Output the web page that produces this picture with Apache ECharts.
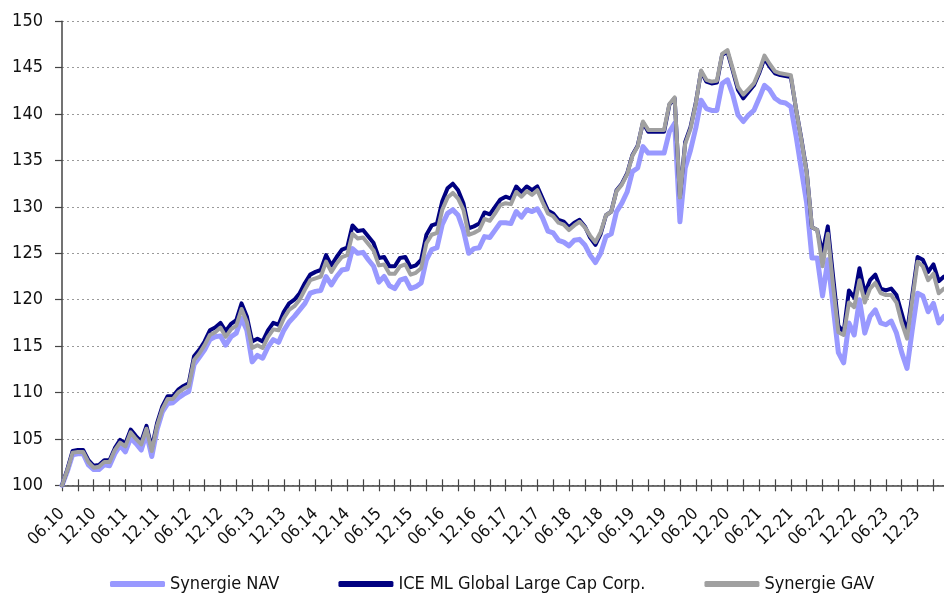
<!DOCTYPE html>
<html>
<head>
<meta charset="utf-8">
<script src="https://cdn.jsdelivr.net/npm/echarts@6/dist/echarts.min.js"></script>
<style>
html,body{margin:0;padding:0;background:#fff;}
#chart{width:944px;height:595px;}
</style>
</head>
<body>
<div id="chart"></div>
<script>
// Monthly categories from 06.10 onward (MM.YY)
const categories = [];
(function(){ let y = 10, m = 6; for (let k = 0; k < 168; k++) { categories.push((m < 10 ? '0' + m : '' + m) + '.' + (y < 10 ? '0' + y : '' + y)); m++; if (m > 12) { m = 1; y++; } } })();

const yTicks = { min: 100, max: 150, step: 5 };

const seriesNames = ['Synergie NAV', 'ICE ML Global Large Cap Corp.', 'Synergie GAV'];

const navValues = [
100.0,101.5,103.3,103.4,103.4,102.2,101.7,101.7,102.2,102.1,
103.4,104.3,103.6,105.1,104.5,103.8,105.6,103.1,106.0,107.9,
108.8,108.9,109.4,109.8,110.1,113.0,113.8,114.6,115.7,116.0,
116.1,115.1,116.0,116.4,118.0,116.7,113.3,114.0,113.7,114.9,
115.7,115.4,116.7,117.6,118.2,118.9,119.6,120.7,120.9,121.0,
122.5,121.6,122.5,123.2,123.3,125.5,125.0,125.1,124.3,123.6,
121.9,122.5,121.5,121.2,122.1,122.3,121.2,121.4,121.8,124.3,
125.4,125.6,128.1,129.3,129.7,129.1,127.5,125.0,125.5,125.6,
126.8,126.7,127.5,128.3,128.3,128.2,129.5,128.9,129.7,129.5,
129.8,128.8,127.4,127.2,126.4,126.2,125.8,126.4,126.5,125.9,
124.8,124.0,125.0,126.8,127.1,129.5,130.4,131.6,133.8,134.2,
136.5,135.8,135.8,135.8,135.8,138.1,139.0,128.4,134.2,136.1,
138.5,141.5,140.6,140.4,140.4,143.3,143.7,142.1,139.9,139.2,
139.9,140.4,141.7,143.1,142.6,141.7,141.3,141.2,140.8,137.6,
134.0,130.4,124.5,124.5,120.4,124.3,119.3,114.3,113.2,117.5,
116.2,120.0,116.4,118.2,118.9,117.5,117.3,117.7,116.4,114.3,
112.6,116.8,120.7,120.4,118.7,119.6,117.5,118.2
];

const iceValues = [
100.0,101.7,103.7,103.8,103.8,102.7,102.1,102.2,102.7,102.7,
104.0,104.9,104.5,106.0,105.3,104.7,106.4,104.0,106.7,108.5,
109.6,109.6,110.3,110.7,111.0,113.9,114.6,115.5,116.7,117.0,
117.5,116.6,117.4,117.8,119.6,118.2,115.5,115.8,115.5,116.7,
117.5,117.3,118.7,119.6,120.0,120.7,121.8,122.7,123.0,123.2,
124.8,123.7,124.6,125.4,125.6,128.0,127.4,127.5,126.8,126.1,
124.5,124.6,123.6,123.6,124.5,124.6,123.5,123.7,124.3,127.0,
128.0,128.2,130.6,132.0,132.5,131.8,130.4,127.7,127.9,128.2,
129.4,129.2,130.0,130.8,131.1,130.9,132.2,131.6,132.2,131.8,
132.2,130.9,129.6,129.3,128.6,128.4,127.8,128.3,128.6,127.9,
126.7,125.9,127.1,129.1,129.5,131.8,132.5,133.6,135.6,136.6,
139.1,138.1,138.1,138.1,138.1,141.0,141.7,131.1,137.0,138.6,
141.2,144.6,143.5,143.3,143.4,146.4,146.7,144.7,142.6,141.7,
142.4,143.1,144.4,146.0,145.1,144.4,144.2,144.1,144.0,140.5,
137.3,133.8,127.8,127.5,125.0,127.9,122.5,117.2,116.5,121.0,
120.2,123.4,120.7,122.1,122.7,121.2,121.0,121.2,120.5,118.5,
116.5,120.5,124.6,124.3,123.0,123.8,122.0,122.5
];

const gavValues = [
100.0,101.6,103.5,103.6,103.6,102.5,101.9,102.0,102.5,102.5,
103.8,104.6,104.2,105.7,105.0,104.4,106.1,103.7,106.4,108.2,
109.3,109.3,110.0,110.4,110.7,113.5,114.2,115.1,116.2,116.5,
117.0,116.0,116.8,117.2,119.0,117.6,114.8,115.1,114.8,116.0,
116.8,116.7,118.0,118.9,119.3,120.0,121.1,122.1,122.3,122.5,
124.1,123.0,123.9,124.6,124.8,127.1,126.6,126.7,126.0,125.3,
123.7,123.8,122.8,122.8,123.6,123.8,122.7,122.9,123.4,126.1,
127.0,127.2,129.7,131.0,131.5,130.9,129.7,127.0,127.2,127.5,
128.7,128.5,129.3,130.2,130.4,130.3,131.6,131.1,131.7,131.3,
131.8,130.5,129.3,129.0,128.3,128.1,127.5,128.0,128.4,127.8,
126.9,126.2,127.3,129.1,129.5,131.7,132.4,133.5,135.5,136.5,
139.2,138.3,138.3,138.3,138.3,141.1,141.8,131.0,136.8,138.4,
141.1,144.7,143.7,143.5,143.6,146.5,146.9,144.9,142.9,142.1,
142.7,143.3,144.6,146.3,145.4,144.6,144.4,144.3,144.2,140.5,
137.2,133.7,127.8,127.5,123.6,127.1,121.5,116.5,116.2,119.7,
119.2,122.1,119.7,121.2,121.8,120.7,120.5,120.5,119.7,117.5,
115.8,120.0,124.1,123.6,122.1,122.8,120.7,121.2
];

const FONT = "'DejaVu Sans Condensed', 'Liberation Sans Narrow', 'Liberation Sans', sans-serif";
const chart = echarts.init(document.getElementById('chart'), null, { renderer: 'canvas' });

const tickEvery3 = function (i) { return i % 3 === 0; };
const labelEvery6 = function (i) { return i % 6 === 0; };

chart.setOption({
  animation: false,
  backgroundColor: '#ffffff',
  color: ['#9999FF', '#000080', '#A0A0A0'],
  grid: { left: 62, top: 21.3, width: 883.6, height: 464, containLabel: false },
  legend: {
    left: 110, top: 575, padding: 0,
    itemWidth: 55, itemHeight: 6, itemGap: 59,
    icon: 'roundRect',
    data: seriesNames,
    textStyle: { fontFamily: FONT, fontSize: 18, color: '#111' }
  },
  xAxis: [
    {
      type: 'category', data: categories, boundaryGap: false, position: 'bottom',
      axisLine: { lineStyle: { color: '#444', width: 1.5 } },
      axisTick: { interval: tickEvery3, length: 6, lineStyle: { color: '#444', width: 1.2 } },
      axisLabel: { interval: labelEvery6, rotate: 45, margin: 26, fontFamily: FONT, fontSize: 17, color: '#111' },
      splitLine: { show: false }
    },
    {
      type: 'category', data: categories, boundaryGap: false, position: 'bottom',
      axisLine: { show: false },
      axisTick: { inside: true, interval: tickEvery3, length: 6, lineStyle: { color: '#444', width: 1.2 } },
      axisLabel: { show: false },
      splitLine: { show: false }
    }
  ],
  yAxis: {
    type: 'value', min: yTicks.min, max: yTicks.max, interval: yTicks.step,
    axisLine: { show: true, lineStyle: { color: '#444', width: 1.5 } },
    axisTick: { show: true, length: 7, lineStyle: { color: '#444', width: 1.2 } },
    axisLabel: { margin: 19, fontFamily: FONT, fontSize: 18, color: '#111' },
    splitLine: { show: true, lineStyle: { color: '#9a9a9a', type: [2, 3], width: 1 } }
  },
  series: [
    { name: seriesNames[0], type: 'line', data: navValues, xAxisIndex: 0, showSymbol: false, symbol: 'none',
      lineStyle: { width: 5, color: '#9999FF', join: 'round', cap: 'round' }, itemStyle: { color: '#9999FF' } },
    { name: seriesNames[1], type: 'line', data: iceValues, xAxisIndex: 0, showSymbol: false, symbol: 'none',
      lineStyle: { width: 4, color: '#000080', join: 'round', cap: 'round' }, itemStyle: { color: '#000080' } },
    { name: seriesNames[2], type: 'line', data: gavValues, xAxisIndex: 0, showSymbol: false, symbol: 'none',
      lineStyle: { width: 4, color: '#A0A0A0', join: 'round', cap: 'round' }, itemStyle: { color: '#A0A0A0' } }
  ]
});
</script>
</body>
</html>
